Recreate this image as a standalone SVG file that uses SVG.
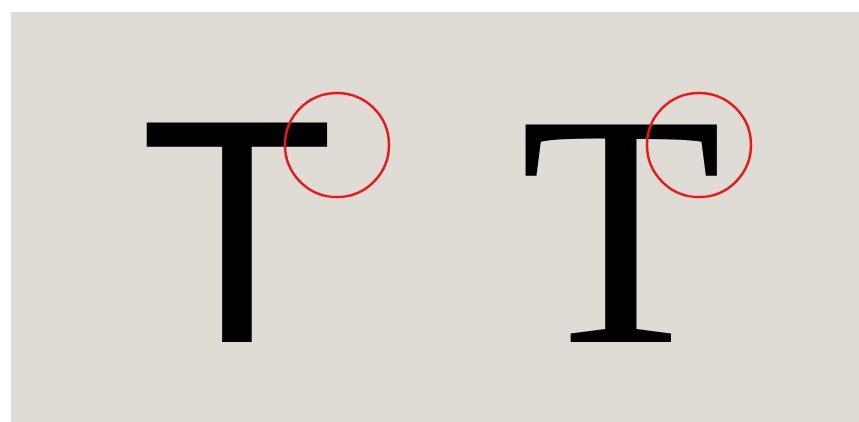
<svg xmlns="http://www.w3.org/2000/svg" width="859" height="422" viewBox="0 0 859 422">
<style>
.ring{fill:none;stroke:#f0141a;stroke-width:2.5}
.glyph{fill:#000;text-anchor:middle}
</style>
<rect x="0" y="0" width="859" height="422" fill="#ffffff"/>
<rect x="11" y="12" width="848" height="410" fill="#dfdbd5"/>
<g id="sans-t">
<text class="glyph" x="237" y="342" font-family="'Liberation Sans', Arial, sans-serif" font-size="319">T</text>
<circle class="ring" cx="337" cy="145" r="52"/>
</g>
<g id="serif-t">
<text class="glyph" x="621" y="342" font-family="'Liberation Serif', 'Times New Roman', serif" font-size="332">T</text>
<circle class="ring" cx="699" cy="145" r="52"/>
</g>
</svg>
